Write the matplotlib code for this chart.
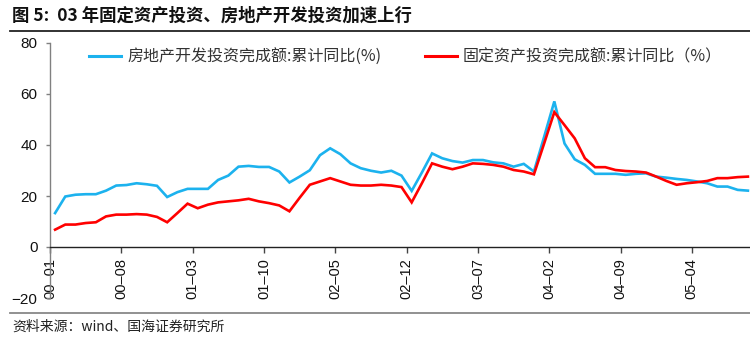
import matplotlib
matplotlib.use("Agg")
import matplotlib.pyplot as plt
from matplotlib.lines import Line2D
import numpy as np

plt.rcParams['font.family'] = ['Liberation Sans', 'Noto Sans CJK SC', 'DejaVu Sans']

title = "图 5:  03 年固定资产投资、房地产开发投资加速上行"
source = "资料来源：wind、国海证券研究所"
series_names = ["房地产开发投资完成额:累计同比(%)", "固定资产投资完成额:累计同比（%）"]

tick_labels = ["00–01", "00–08", "01–03", "01–10", "02–05", "02–12",
               "03–07", "04–02", "04–09", "05–04"]

# monthly, 2000-01 .. 2005-09
real_estate = [13.3, 19.8, 20.5, 20.7, 20.7, 22.1, 24.1, 24.3, 25.0, 24.6, 24.0, 19.6,
               21.5, 22.8, 22.8, 22.8, 26.3, 28.0, 31.5, 31.8, 31.4, 31.4, 29.6, 25.3,
               27.6, 30.1, 36.0, 38.7, 36.4, 32.8, 30.9, 29.9, 29.2, 29.9, 28.0, 22.0,
               29.2, 36.7, 34.8, 33.7, 33.1, 34.1, 34.1, 33.2, 32.8, 31.5, 32.6, 29.6,
               43.2, 57.1, 40.6, 34.4, 32.2, 28.7, 28.7, 28.7, 28.3, 28.7, 28.9, 27.6,
               27.2, 26.7, 26.3, 25.7, 25.0, 23.7, 23.7, 22.4, 22.1]
fixed_asset = [6.8, 8.8, 8.8, 9.4, 9.7, 12.0, 12.7, 12.7, 12.9, 12.7, 11.8, 9.7,
               13.3, 17.0, 15.2, 16.6, 17.5, 17.9, 18.3, 18.9, 17.9, 17.2, 16.3, 14.0,
               19.3, 24.4, 25.7, 27.0, 25.7, 24.4, 24.1, 24.1, 24.4, 24.1, 23.5, 17.5,
               25.0, 32.8, 31.5, 30.5, 31.5, 32.8, 32.6, 32.2, 31.5, 30.2, 29.6, 28.5,
               40.6, 52.9, 47.8, 42.6, 34.8, 31.3, 31.3, 30.2, 29.8, 29.6, 29.2, 27.6,
               25.9, 24.4, 25.0, 25.4, 25.9, 27.0, 27.0, 27.4, 27.6]

W, H = 750, 344
fig = plt.figure(figsize=(W/100, H/100), dpi=100)

n = len(real_estate)
x = np.arange(n) + 0.5

ax = fig.add_axes([50/W, 46/H, 703/W, 255/H])
ax.plot(x, real_estate, color='#1CB2EE', lw=1.9, solid_joinstyle='miter', zorder=3)
ax.plot(x, fixed_asset, color='#FF0000', lw=1.9, solid_joinstyle='miter', zorder=4)

ax.set_xlim(0, 69)
ax.set_ylim(-20, 80)
ax.set_yticks(np.arange(-20, 81, 20))
ax.set_xticks(np.arange(0, 7*len(tick_labels), 7))
ax.set_xticklabels(tick_labels)

for s in ['top', 'right']:
    ax.spines[s].set_visible(False)
ax.spines['left'].set_color('#808080')
ax.spines['left'].set_linewidth(1.0)
ax.spines['bottom'].set_position(('data', 0))
ax.spines['bottom'].set_color('#222222')
ax.spines['bottom'].set_linewidth(1.0)
ax.tick_params(axis='y', direction='out', length=3, width=1, color='#808080', pad=6,
               labelcolor='#111111', labelsize=11)
ax.tick_params(axis='x', direction='out', length=4, width=1, color='#444444', pad=4,
               labelcolor='#111111', labelsize=10.5, labelrotation=90)
for lab in ax.get_xticklabels():
    lab.set_verticalalignment('top')
    lab.set_horizontalalignment('center')
    lab.set_family('Liberation Sans')
for lab in ax.get_yticklabels():
    lab.set_family('Liberation Sans')

# legend
cjk = ['Noto Sans CJK SC', 'DejaVu Sans']
h1 = Line2D([], [], color='#1CB2EE', lw=2.2)
h2 = Line2D([], [], color='#FF0000', lw=2.2)
leg = fig.legend([h1, h2], series_names, loc='center left',
                 bbox_to_anchor=(89/W, 1 - 57/H), ncol=2, frameon=False,
                 prop={'family': cjk, 'size': 11.5}, handlelength=2.0,
                 handletextpad=0.4, columnspacing=2.7, borderaxespad=0, borderpad=0)
for t in leg.get_texts():
    t.set_color('#333333')

# title and source
fig.text(12/W, 1 - 16/H, title, fontsize=12.5, fontweight='bold', family=cjk,
         va='center', ha='left', color='#111111')
fig.text(12/W, 1 - 327/H, source, fontsize=10, family=cjk,
         va='center', ha='left', color='#222222')

fig.add_artist(Line2D([10/W, 1], [1 - 31/H, 1 - 31/H], color='#222222', lw=1.3,
                      transform=fig.transFigure))
fig.add_artist(Line2D([10/W, 1], [1 - 313/H, 1 - 313/H], color='#888888', lw=1.3,
                      transform=fig.transFigure))

fig.savefig('out.png', dpi=100)
